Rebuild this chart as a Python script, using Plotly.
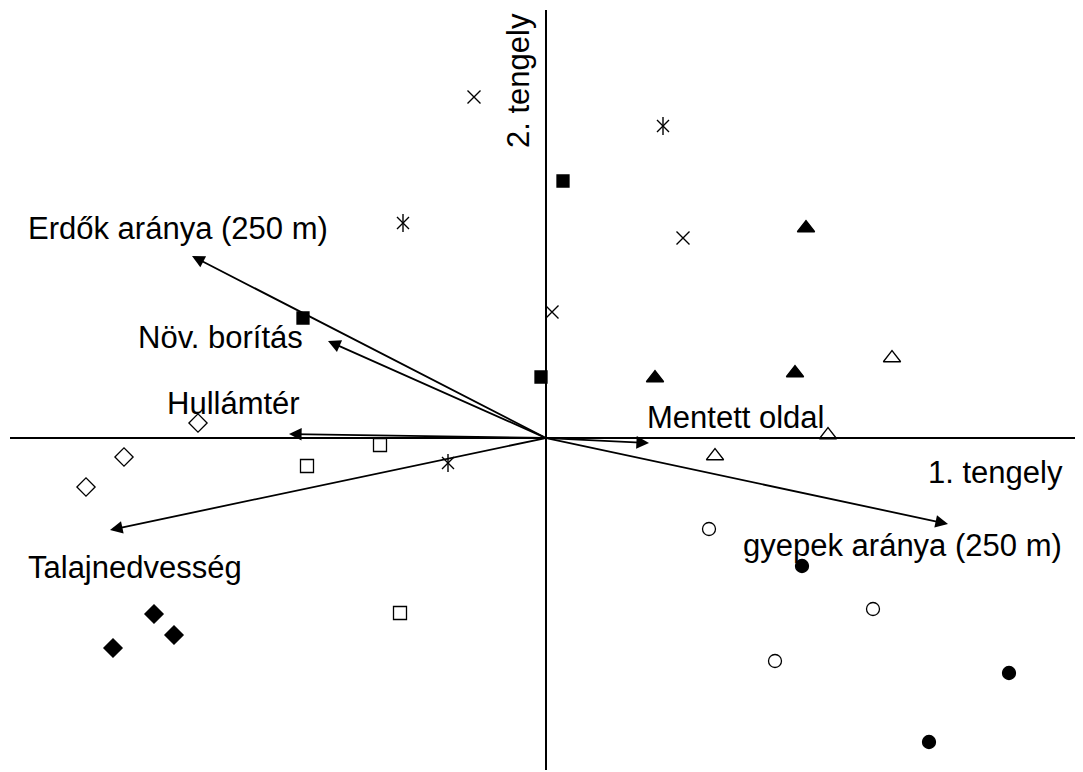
import plotly.graph_objects as go

# Site scores (axis 1, axis 2) per group
cross_x = [-0.72, 1.37, 0.06]
cross_y = [3.41, 2.00, 1.26]
aster_x = [1.17, -1.43, -0.98]
aster_y = [3.12, 2.15, -0.25]
fsq_x = [0.17, -2.43, -0.05]
fsq_y = [2.57, 1.20, 0.61]
ftri_x = [2.60, 1.09, 2.49]
ftri_y = [2.10, 0.60, 0.65]
otri_x = [3.46, 2.82, 1.69]
otri_y = [0.80, 0.03, -0.18]
odia_x = [-3.48, -4.22, -4.60]
odia_y = [0.15, -0.19, -0.49]
osq_x = [-1.66, -2.39, -1.46]
osq_y = [-0.07, -0.28, -1.75]
fdia_x = [-3.92, -3.72, -4.33]
fdia_y = [-1.76, -1.97, -2.10]
ocir_x = [1.63, 3.27, 2.29]
ocir_y = [-0.91, -1.71, -2.23]
fcir_x = [2.56, 4.63, 3.83]
fcir_y = [-1.28, -2.35, -3.04]

# Environmental vectors (tips)
vec_names = ["Erdők aránya (250 m)", "Növ. borítás", "Hullámtér", "Talajnedvesség",
             "Mentett oldal", "gyepek aránya (250 m)"]
vec_x = [-3.54, -2.18, -2.57, -4.36, 1.03, 4.02]
vec_y = [1.82, 0.97, 0.04, -0.92, -0.05, -0.86]
# label positions (left edge x, centre y)
lab_x = [-5.20, -4.10, -3.81, -5.20, 0.99, 1.95]
lab_y = [2.10, 1.01, 0.35, -1.29, 0.21, -1.07]

FONT = "Arial, Liberation Sans, sans-serif"
FS = 31
fig = go.Figure()

def add(xs, ys, symbol, size, lw=1.3, color="black"):
    fig.add_trace(go.Scatter(x=xs, y=ys, mode="markers", showlegend=False,
                             marker=dict(symbol=symbol, size=size, color=color,
                                         line=dict(color="black", width=lw))))

add(cross_x, cross_y, "x-thin-open", 13, 1.4)
add(aster_x, aster_y, "x-thin-open", 12, 1.4)
add(aster_x, aster_y, "line-ns-open", 13, 1.4)
add(fsq_x, fsq_y, "square", 12)
add(ftri_x, ftri_y, "triangle-up", 15)
add(otri_x, otri_y, "triangle-up-open", 15)
add(odia_x, odia_y, "diamond-open", 14)
add(osq_x, osq_y, "square-open", 13)
add(fdia_x, fdia_y, "diamond", 14)
add(ocir_x, ocir_y, "circle-open", 13)
add(fcir_x, fcir_y, "circle", 13)

# axes lines
fig.add_shape(type="line", x0=-5.36, x1=5.37, y0=0, y1=0, line=dict(color="black", width=2))
fig.add_shape(type="line", x0=0, x1=0, y0=-3.32, y1=4.28, line=dict(color="black", width=2))

for vx, vy in zip(vec_x, vec_y):
    fig.add_annotation(x=vx, y=vy, ax=0, ay=0, xref="x", yref="y", axref="x", ayref="y",
                       text="", showarrow=True, arrowhead=2, arrowsize=1.4,
                       arrowwidth=1.8, arrowcolor="black", standoff=0)

for name, lx, ly in zip(vec_names, lab_x, lab_y):
    fig.add_annotation(x=lx, y=ly, xref="x", yref="y", text=name, showarrow=False,
                       xanchor="left", yanchor="middle",
                       font=dict(family=FONT, size=FS, color="black"))

fig.add_annotation(x=5.19, y=-0.34, xref="x", yref="y", text="1. tengely", showarrow=False,
                   xanchor="right", yanchor="middle", font=dict(family=FONT, size=FS, color="black"))
fig.add_annotation(x=-0.28, y=3.57, xref="x", yref="y", text="2. tengely", showarrow=False,
                   textangle=-90, xanchor="center", yanchor="middle",
                   font=dict(family=FONT, size=FS, color="black"))

# page body has an 8px margin: figure covers reference pixels 8..1083 x 8..772
fig.update_xaxes(range=[-5.38, 5.37], visible=False, showgrid=False, zeroline=False)
fig.update_yaxes(range=[-3.34, 4.30], visible=False, showgrid=False, zeroline=False)
fig.update_layout(width=1075, height=764, margin=dict(l=0, r=0, t=0, b=0),
                  plot_bgcolor="white", paper_bgcolor="white")
fig.write_html("out.html")
